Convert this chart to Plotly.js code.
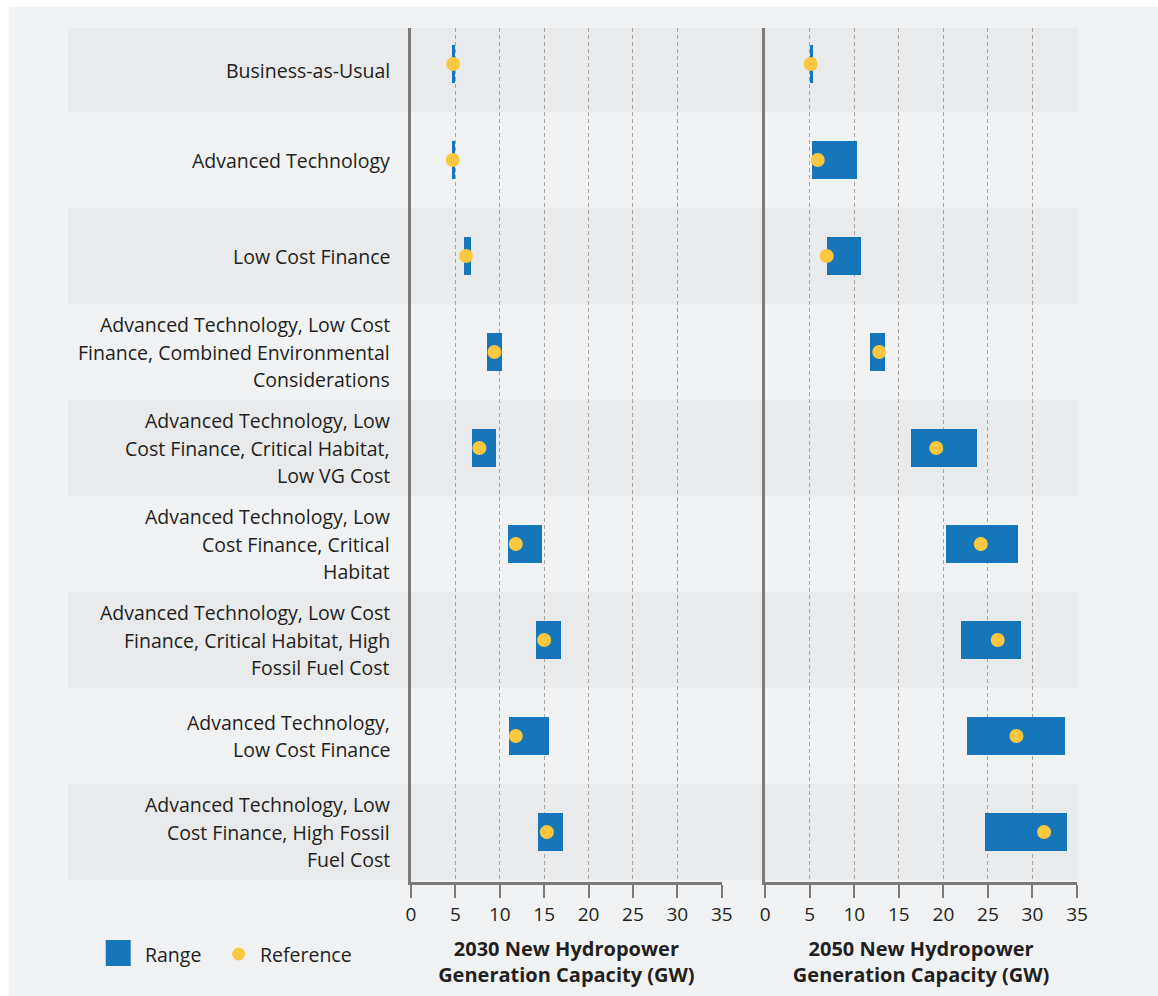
<!DOCTYPE html>
<html>
<head>
<meta charset="utf-8">
<script src="https://cdn.plot.ly/plotly-3.0.1.min.js"></script>
<style>html,body{margin:0;padding:0;background:#ffffff;}</style>
</head>
<body>
<div id="chart" style="width:1158px;height:996px;"></div>
<script>
// ---- data ----
const scenarios = [
  "Business-as-Usual",
  "Advanced Technology",
  "Low Cost Finance",
  "Advanced Technology, Low Cost<br>Finance, Combined Environmental<br>Considerations",
  "Advanced Technology, Low<br>Cost Finance, Critical Habitat,<br>Low VG Cost",
  "Advanced Technology, Low<br>Cost Finance, Critical<br>Habitat",
  "Advanced Technology, Low Cost<br>Finance, Critical Habitat, High<br>Fossil Fuel Cost",
  "Advanced Technology,<br>Low Cost Finance",
  "Advanced Technology, Low<br>Cost Finance, High Fossil<br>Fuel Cost"
];
const low2030  = [4.6, 4.6, 6.0, 8.6, 6.9, 10.9, 14.1, 11.0, 14.3];
const high2030 = [4.9, 5.0, 6.8, 10.2, 9.6, 14.8, 16.9, 15.5, 17.1];
const ref2030  = [4.75, 4.7, 6.2, 9.4, 7.7, 11.8, 15.0, 11.8, 15.3];
const low2050  = [5.0, 5.3, 6.9, 11.8, 16.4, 20.3, 22.0, 22.6, 24.7];
const high2050 = [5.4, 10.3, 10.8, 13.5, 23.8, 28.4, 28.7, 33.7, 33.9];
const ref2050  = [5.1, 5.9, 6.9, 12.8, 19.2, 24.2, 26.1, 28.2, 31.3];
const xTicks = [0, 5, 10, 15, 20, 25, 30, 35];
const xTitle2030 = "2030 New Hydropower<br>Generation Capacity (GW)";
const xTitle2050 = "2050 New Hydropower<br>Generation Capacity (GW)";
const legendNames = ["Range", "Reference"];

// ---- styling / geometry ----
const W = 1158, H = 996;
const M = {l: 410.5, r: 81, t: 28, b: 114};
const PW = W - M.l - M.r, PH = H - M.t - M.b;
const px2x = p => (p - M.l) / PW;
const px2y = p => (H - M.b - p) / PH;
const FONT = "Open Sans, Lato, sans-serif";
const TXT = "#231f20";
const BLUE = "#1577ba", GOLD = "#fdc73f";
const AXC = "#7a7a7a";
const yTop = -0.375, yBot = 8.52;
const idx = scenarios.map((_, i) => i);

const traces = [
  {type: "bar", orientation: "h", name: legendNames[0], y: idx,
   base: low2030, x: high2030.map((h, i) => h - low2030[i]),
   width: 0.396, marker: {color: BLUE, line: {width: 0}},
   xaxis: "x", yaxis: "y", showlegend: false, hoverinfo: "skip"},
  {type: "scatter", mode: "markers", name: legendNames[1], y: idx, x: ref2030,
   marker: {color: GOLD, size: 14, line: {width: 0}},
   xaxis: "x", yaxis: "y", showlegend: false},
  {type: "bar", orientation: "h", name: legendNames[0], y: idx,
   base: low2050, x: high2050.map((h, i) => h - low2050[i]),
   width: 0.396, marker: {color: BLUE, line: {width: 0}},
   xaxis: "x2", yaxis: "y2", showlegend: false, hoverinfo: "skip"},
  {type: "scatter", mode: "markers", name: legendNames[1], y: idx, x: ref2050,
   marker: {color: GOLD, size: 14, line: {width: 0}},
   xaxis: "x2", yaxis: "y2", showlegend: false}
];

const shapes = [];
// page background (white strip on top & left)
shapes.push({type: "rect", xref: "paper", yref: "paper", layer: "below",
  x0: px2x(8), x1: px2x(W + 2), y0: px2y(H + 2), y1: px2y(7),
  fillcolor: "#f1f2f4", line: {width: 0}});
// alternating row bands
idx.forEach(i => {
  if (i % 2 === 0) {
    shapes.push({type: "rect", xref: "paper", yref: "y", layer: "below",
      x0: px2x(67), x1: 1, y0: Math.max(i - 0.5, yTop), y1: Math.min(i + 0.5, yBot),
      fillcolor: "#e9eaec", line: {width: 0}});
  }
});
// legend swatches
shapes.push({type: "rect", xref: "paper", yref: "paper",
  x0: px2x(105), x1: px2x(130), y0: px2y(966), y1: px2y(940),
  fillcolor: BLUE, line: {width: 0}});
shapes.push({type: "circle", xref: "paper", yref: "paper",
  x0: px2x(231.5), x1: px2x(244.5), y0: px2y(960.5), y1: px2y(947.5),
  fillcolor: GOLD, line: {width: 0}});

const annotations = [];
const LS = 27.5;
scenarios.forEach((s, i) => {
  const lines = s.split("<br>");
  const top = Math.max(i - 0.5, yTop), bot = i + 0.5;
  const yc = (top + bot) / 2;
  lines.forEach((ln, k) => {
    annotations.push({xref: "paper", yref: "y", x: px2x(391), y: yc,
      xanchor: "right", yanchor: "middle", showarrow: false, text: ln,
      yshift: -(k - (lines.length - 1) / 2) * LS,
      font: {family: FONT, size: 19.5, color: TXT}});
  });
});
annotations.push({xref: "paper", yref: "paper", x: px2x(142), y: px2y(954),
  xanchor: "left", yanchor: "middle", showarrow: false, text: legendNames[0],
  font: {family: FONT, size: 19.5, color: TXT}});
annotations.push({xref: "paper", yref: "paper", x: px2x(257), y: px2y(954),
  xanchor: "left", yanchor: "middle", showarrow: false, text: legendNames[1],
  font: {family: FONT, size: 19.5, color: TXT}});

const xAxisBase = {
  range: [0, 35], tickvals: xTicks, ticktext: xTicks.map(String),
  showgrid: true, gridcolor: "#a3a3a3", gridwidth: 1, griddash: "4px,3px",
  zeroline: false, showline: true, linecolor: AXC, linewidth: 3,
  ticks: "outside", ticklen: 13, tickwidth: 2, tickcolor: AXC,
  tickfont: {family: FONT, size: 19, color: TXT}, fixedrange: true
};
const yAxisBase = {
  range: [yBot, yTop], showgrid: false, zeroline: false, showticklabels: false,
  showline: true, linecolor: AXC, linewidth: 3, ticks: "", fixedrange: true
};
const titleFont = {family: FONT, size: 20, color: TXT, weight: "bold"};

const layout = {
  width: W, height: H, margin: M,
  paper_bgcolor: "#ffffff", plot_bgcolor: "rgba(0,0,0,0)",
  showlegend: false, bargap: 0, barmode: "overlay",
  font: {family: FONT, color: TXT},
  xaxis: Object.assign({}, xAxisBase, {domain: [0, px2x(721.5)], anchor: "y",
    title: {text: xTitle2030, standoff: 17, font: titleFont}}),
  xaxis2: Object.assign({}, xAxisBase, {domain: [px2x(765), 1], anchor: "y2",
    title: {text: xTitle2050, standoff: 17, font: titleFont}}),
  yaxis: Object.assign({}, yAxisBase, {anchor: "x"}),
  yaxis2: Object.assign({}, yAxisBase, {anchor: "x2", matches: "y"}),
  shapes: shapes, annotations: annotations
};

Plotly.newPlot("chart", traces, layout, {displayModeBar: false, staticPlot: true});
</script>
</body>
</html>
